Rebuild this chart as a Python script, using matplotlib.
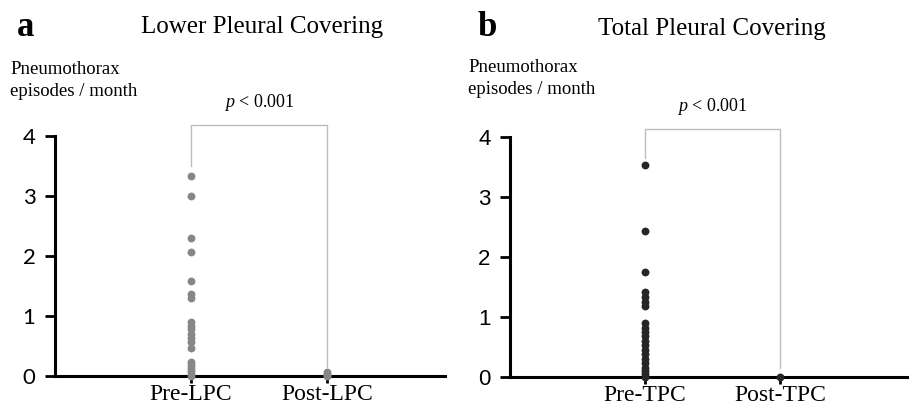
import matplotlib
matplotlib.use("Agg")
import matplotlib.pyplot as plt

plt.rcParams["mathtext.fontset"] = "custom"
plt.rcParams["mathtext.it"] = "Liberation Serif:italic"
plt.rcParams["mathtext.rm"] = "Liberation Serif"

W, H = 909, 405
DPI = 100

# ---- data ----
categories_a = ["Pre-LPC", "Post-LPC"]
categories_b = ["Pre-TPC", "Post-TPC"]
pre_lpc = [3.33, 3.0, 2.3, 2.07, 1.58, 1.37, 1.3, 0.9, 0.84, 0.78, 0.7, 0.63,
           0.57, 0.47, 0.23, 0.18, 0.13, 0.08, 0.04, 0.0]
post_lpc = [0.0, 0.02, 0.04, 0.06]
pre_tpc = [3.52, 2.43, 1.75, 1.42, 1.33, 1.25, 1.18, 0.89, 0.82, 0.75, 0.68,
           0.6, 0.53, 0.45, 0.38, 0.3, 0.23, 0.15, 0.1, 0.05, 0.0]
post_tpc = [0.0]
yticks = [0, 1, 2, 3, 4]
p_rest = " < 0.001"

fig = plt.figure(figsize=(W / DPI, H / DPI), dpi=DPI)

def px_axes(x0, x1, ytop, ybot):
    return fig.add_axes([x0 / W, 1 - ybot / H, (x1 - x0) / W, (ybot - ytop) / H])

def panel(ax, cats, pre, post, color, xmax, tickfont, bracket_top, lv_bot, rv_bot):
    ax.set_xlim(0, xmax)
    ax.set_ylim(0, 4)
    for s in ["top", "right"]:
        ax.spines[s].set_visible(False)
    for s in ["left", "bottom"]:
        ax.spines[s].set_linewidth(2.2)
        ax.spines[s].set_color("black")
    ax.set_yticks(yticks)
    ax.set_yticklabels([str(t) for t in yticks], fontsize=16, family=tickfont)
    ax.set_xticks([1, 2])
    ax.set_xticklabels(cats, fontsize=17, family="Liberation Serif")
    ax.tick_params(axis="y", length=7, width=2, pad=7)
    ax.tick_params(axis="x", length=5, width=2, pad=1)
    ax.scatter([1] * len(pre), pre, s=32, color=color, zorder=4, clip_on=False, linewidths=0)
    ax.scatter([2] * len(post), post, s=32, color=color, zorder=4, clip_on=False, linewidths=0)
    # bracket
    ax.plot([1, 1, 2, 2], [lv_bot, bracket_top, bracket_top, rv_bot], color="#bdbdbd",
            lw=1.0, clip_on=False, zorder=2)
    ax.text(1.5, bracket_top + 0.2, r"$\mathit{p}$" + p_rest, ha="center", va="bottom",
            fontsize=13, family="Liberation Serif", clip_on=False)

axA = px_axes(55, 445, 135.7, 376)
panel(axA, categories_a, pre_lpc, post_lpc, "#878787", (445 - 55) / 136,
      "Lato", 4.17, 3.5, 0.15)

axB = px_axes(510, 909, 136.5, 377)
panel(axB, categories_b, pre_tpc, post_tpc, "#262626", (909 - 510) / 135,
      "Liberation Sans", 4.12, 3.65, 0.15)

# titles and labels
def ftext(x, y, s, **kw):
    fig.text(x / W, 1 - y / H, s, **kw)

ftext(17, 27, "a", fontsize=25, fontweight="bold", family="Liberation Serif", va="center")
ftext(262, 27, "Lower Pleural Covering", fontsize=18, family="Liberation Serif",
      ha="center", va="center")
ftext(10, 70, "Pneumothorax", fontsize=13.5, family="Liberation Serif", va="center")
ftext(10, 92, "episodes / month", fontsize=13.5, family="Liberation Serif", va="center")

ftext(478, 27, "b", fontsize=25, fontweight="bold", family="Liberation Serif", va="center")
ftext(712, 29, "Total Pleural Covering", fontsize=18, family="Liberation Serif",
      ha="center", va="center")
ftext(468, 68, "Pneumothorax", fontsize=13.5, family="Liberation Serif", va="center")
ftext(468, 89, "episodes / month", fontsize=13.5, family="Liberation Serif", va="center")

fig.savefig("out.png", dpi=DPI)
